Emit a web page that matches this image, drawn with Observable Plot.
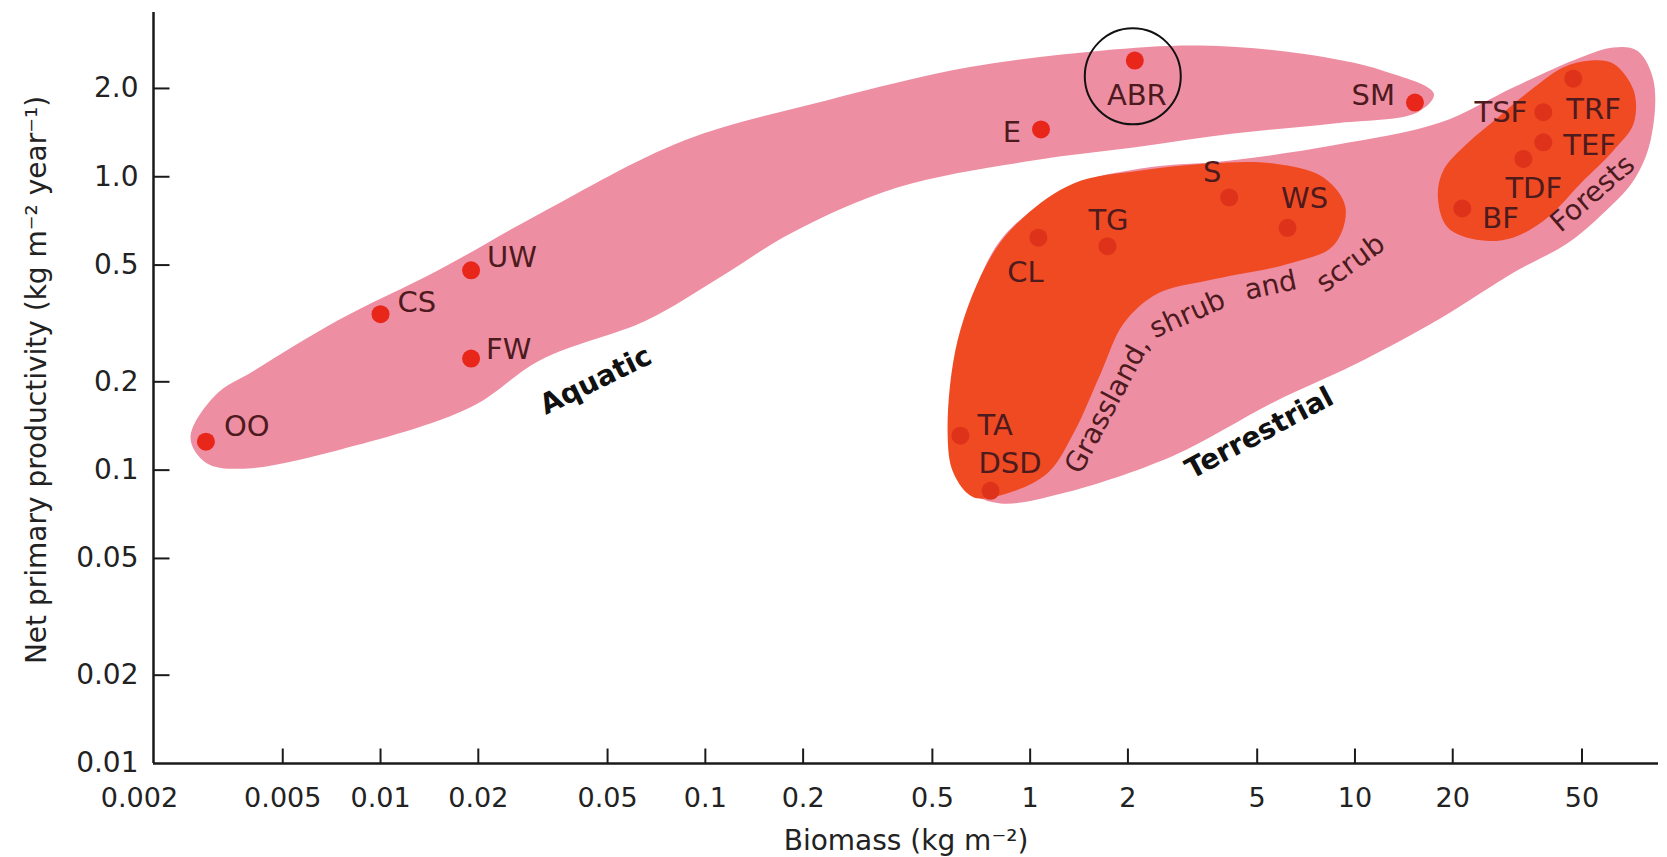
<!DOCTYPE html>
<html><head><meta charset="utf-8">
<script src="https://cdn.jsdelivr.net/npm/d3@7"></script>
<script src="https://cdn.jsdelivr.net/npm/@observablehq/plot@0.6"></script>
<style>html,body{margin:0;padding:0;background:#fff;overflow:hidden}</style>
</head><body><div id="chart"></div>
<script>
// ---- data (biomass kg m-2, net primary productivity kg m-2 yr-1) ----
const names   = ["OO","CS","UW","FW","E","ABR","SM","TSF","TRF","TEF","TDF","BF","S","WS","TG","CL","TA","DSD"];
const biomass = [0.0029,0.010,0.019,0.019,1.08,2.1,15.3,38,47,38,33,21.4,4.1,6.2,1.73,1.06,0.61,0.755];
const npp     = [0.125,0.34,0.48,0.24,1.45,2.49,1.79,1.66,2.16,1.31,1.15,0.78,0.85,0.67,0.58,0.62,0.131,0.085];
const habitat = ["aquatic","aquatic","aquatic","aquatic","aquatic","aquatic","aquatic",
                 "terrestrial","terrestrial","terrestrial","terrestrial","terrestrial","terrestrial",
                 "terrestrial","terrestrial","terrestrial","terrestrial","terrestrial"];

const xTicks = [0.002,0.005,0.01,0.02,0.05,0.1,0.2,0.5,1,2,5,10,20,50];
const xTickLabels = ["0.002","0.005","0.01","0.02","0.05","0.1","0.2","0.5","1","2","5","10","20","50"];
const yTicks = [0.01,0.02,0.05,0.1,0.2,0.5,1,2];
const yTickLabels = ["0.01","0.02","0.05","0.1","0.2","0.5","1.0","2.0"];

// region outlines as [biomass, npp]
const aquaticOutline = [[0.0026,0.129],[0.0031,0.180],[0.0041,0.219],[0.0074,0.324],[0.015,0.479],[0.031,0.75],[0.086,1.33],[0.236,1.82],[0.646,2.36],[1.65,2.69],[3.35,2.80],[6.8,2.63],[12.2,2.30],[17.5,1.92],[15.6,1.66],[8.6,1.52],[4.23,1.405],[2.08,1.258],[1.02,1.136],[0.39,0.919],[0.183,0.641],[0.111,0.454],[0.066,0.324],[0.031,0.237],[0.019,0.164],[0.0074,0.117],[0.0037,0.101],[0.0029,0.106]];
const terrestrialOutline = [[0.81,0.077],[1.24,0.083],[2.76,0.112],[5.6,0.170],[9.9,0.228],[18.3,0.329],[30.8,0.472],[45,0.592],[58,0.75],[72,0.97],[81.3,1.33],[83,2.13],[74,2.69],[62.5,2.76],[49.5,2.55],[30.8,2.02],[18.3,1.53],[8.6,1.28],[4.14,1.136],[2.19,1.067],[1.36,0.934],[0.81,0.607],[0.63,0.30],[0.60,0.126],[0.655,0.085]];
const grasslandOutline = [[0.557,0.1335],[0.598,0.277],[0.755,0.531],[0.954,0.727],[1.36,0.949],[2.19,1.05],[3.52,1.11],[5.61,1.11],[8.0,0.994],[9.35,0.786],[8.59,0.583],[6.33,0.507],[3.52,0.443],[2.47,0.40],[1.94,0.316],[1.65,0.214],[1.36,0.1335],[1.13,0.0975],[0.852,0.0834],[0.669,0.0808],[0.581,0.0975]];
const forestOutline = [[53.1,2.49],[62.5,2.43],[72.1,1.97],[72.1,1.52],[62.5,1.23],[49.5,0.949],[39.2,0.727],[30.8,0.621],[24.4,0.607],[19.3,0.672],[18.0,0.85],[18.7,1.05],[22.2,1.30],[27.5,1.59],[34.7,1.97],[43.9,2.36]];

// region captions
const regionTexts = ["Aquatic","Terrestrial"];
const regionX = [0.046, 5.08];
const regionY = [0.202, 0.1335];
const subTexts = ["Grassland,","shrub","and","scrub","Forests"];
const subX = [1.73, 3.05, 5.50, 9.69, 53.9];
const subY = [0.166, 0.340, 0.426, 0.507, 0.877];
const highlighted = [{x: 2.07, y: 2.2}]; // ABR circled

const xTitle = "Biomass (kg m\u207B\u00B2)";
const yTitle = "Net primary productivity (kg m\u207B\u00B2 year\u207B\u00B9)";

// ---- layout / style ----
const PINK = "#ee8ea2", DARK = "#ef4a22", DOT = "#e8261a", DOT_T = "#df321b", LAB = "#4d1a1e", AX = "#1a1a1a";
const FONT = "DejaVu Sans";
const labelPlacement = {
  OO:["start",18,-15], CS:["start",17,-11], UW:["start",16,-13], FW:["start",15,-9],
  E:["end",-20,3], ABR:["middle",2,35], SM:["end",-20,-7], TSF:["end",-16,1],
  TRF:["start",-7,31], TEF:["start",20,3], TDF:["start",-18,30], BF:["start",20,10],
  S:["middle",-17,-25], WS:["middle",17,-29], TG:["middle",1,-25], CL:["middle",-13,35],
  TA:["start",17,-10], DSD:["start",-12,-27]
};
const regionRotate = [-26, -28];
const subRotate = [-62, -24, -12, -36, -41];

const tickUp = {draw(ctx){ ctx.moveTo(0,0); ctx.lineTo(0,-15); }};
const tickRight = {draw(ctx){ ctx.moveTo(0,0); ctx.lineTo(16,0); }};

const idx = names.map((_, i) => i);
const blob = (data, fill) => Plot.line(data, {x: d => d[0], y: d => d[1], curve: "catmull-rom-closed", fill, stroke: "none"});

const marks = [
  blob(aquaticOutline, PINK),
  blob(terrestrialOutline, PINK),
  blob(grasslandOutline, DARK),
  blob(forestOutline, DARK),
  Plot.dot(idx.filter(i => habitat[i] === "aquatic"), {x: i => biomass[i], y: i => npp[i], r: 9, fill: DOT, stroke: "none"}),
  Plot.dot(idx.filter(i => habitat[i] === "terrestrial"), {x: i => biomass[i], y: i => npp[i], r: 9, fill: DOT_T, stroke: "none"}),
  ...idx.map(i => {
    const [anchor, dx, dy] = labelPlacement[names[i]];
    return Plot.text([i], {x: i => biomass[i], y: i => npp[i], text: i => names[i], textAnchor: anchor, dx, dy,
      fontSize: 29, fontFamily: FONT, fill: LAB});
  }),
  ...regionTexts.map((t, i) => Plot.text([i], {x: i => regionX[i], y: i => regionY[i], text: i => regionTexts[i],
      rotate: regionRotate[i], fontSize: 28, fontWeight: "bold", fontFamily: FONT, fill: "#111"})),
  ...subTexts.map((t, i) => Plot.text([i], {x: i => subX[i], y: i => subY[i], text: i => subTexts[i],
      rotate: subRotate[i], fontSize: 28, fontFamily: FONT, fill: LAB})),
  Plot.dot(highlighted, {x: "x", y: "y", r: 48, fill: "none", stroke: "#111", strokeWidth: 2}),
  Plot.ruleX([0.002], {stroke: AX, strokeWidth: 2.5}),
  Plot.ruleY([0.01], {stroke: AX, strokeWidth: 2.5}),
  Plot.dot(xTicks.slice(1), {x: d => d, frameAnchor: "bottom", symbol: tickUp, fill: "none", stroke: AX, strokeWidth: 2}),
  Plot.dot(yTicks.slice(1), {y: d => d, frameAnchor: "left", symbol: tickRight, fill: "none", stroke: AX, strokeWidth: 2}),
  // tick labels
  Plot.text(xTicks.slice(0, 1), {x: d => d, text: d => xTickLabels[xTicks.indexOf(d)], frameAnchor: "bottom", lineAnchor: "middle", textAnchor: "middle", dx: -14, dy: 35, fontSize: 27, fontFamily: FONT, fill: "#222"}),
  Plot.text(xTicks.slice(1), {x: d => d, text: d => xTickLabels[xTicks.indexOf(d)], frameAnchor: "bottom", lineAnchor: "middle", textAnchor: "middle", dy: 35, fontSize: 27, fontFamily: FONT, fill: "#222"}),
  Plot.text(yTicks, {y: d => d, text: d => yTickLabels[yTicks.indexOf(d)], frameAnchor: "left", lineAnchor: "middle", textAnchor: "end", dx: -15, fontSize: 28, fontFamily: FONT, fill: "#222"}),
  // axis titles
  Plot.text([xTitle], {frameAnchor: "bottom", text: d => d, textAnchor: "middle", lineAnchor: "middle", dy: 78, fontSize: 28, fontFamily: FONT, fill: "#222"}),
  Plot.text([yTitle], {frameAnchor: "left", text: d => d, textAnchor: "middle", lineAnchor: "middle", rotate: -90, dx: -116, dy: -8, fontSize: 28, fontFamily: FONT, fill: "#222"})
];

const chart = Plot.plot({
  width: 1667, height: 857,
  marginLeft: 153, marginRight: 9, marginTop: 12, marginBottom: 94,
  x: {type: "log", domain: [0.002, 86], axis: null},
  y: {type: "log", domain: [0.01, 3.63], axis: null},
  style: {fontFamily: FONT, background: "#fff"},
  marks
});
document.getElementById("chart").appendChild(chart);
</script>
</body></html>
